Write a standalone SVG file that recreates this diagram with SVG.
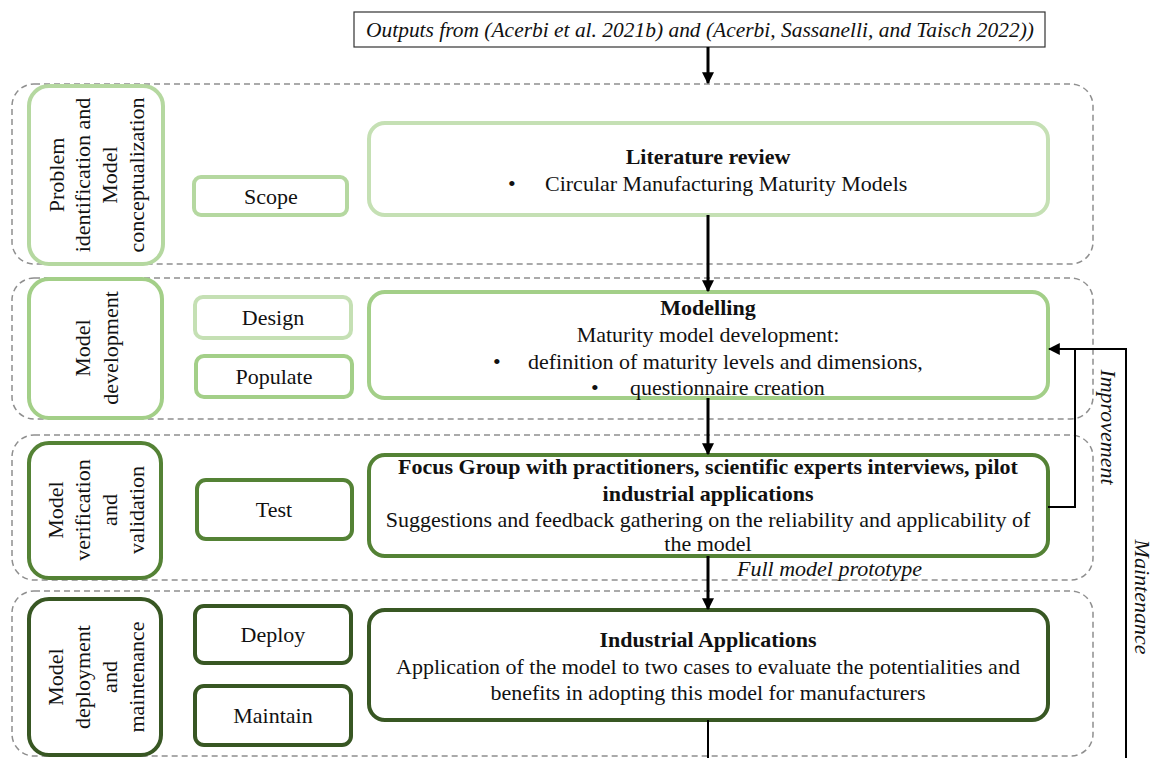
<svg xmlns="http://www.w3.org/2000/svg" width="1153" height="758" viewBox="0 0 1153 758">
<defs>
<style>
text{font-family:"Liberation Serif","Times New Roman",serif;font-size:22px;fill:#111}
.c{text-anchor:middle}
.b{font-weight:bold}
.i{font-style:italic}
.lane{fill:none;stroke:#8f8f8f;stroke-width:1.5;stroke-dasharray:6 4}
.g1{fill:#fff;stroke:#b5d8a0;stroke-width:4}
.g2{fill:#fff;stroke:#a3cf88;stroke-width:4}
.g3{fill:#fff;stroke:#548235;stroke-width:4}
.g4{fill:#fff;stroke:#385723;stroke-width:4}
.g0{fill:#fff;stroke:#c5e0b4;stroke-width:4}
.ar{fill:none;stroke:#000;stroke-width:3}
.ln{fill:none;stroke:#000;stroke-width:2}
</style>
<marker id="ah" viewBox="0 0 10 10" refX="9" refY="5" markerWidth="4" markerHeight="4" orient="auto" markerUnits="strokeWidth"><path d="M0,0 L10,5 L0,10 z" fill="#000"/></marker>
<marker id="ah2" viewBox="0 0 10 10" refX="9" refY="5" markerWidth="6" markerHeight="6" orient="auto" markerUnits="strokeWidth"><path d="M0,0 L10,5 L0,10 z" fill="#000"/></marker>
</defs>

<g id="lanes">
<rect class="lane" x="12" y="84" width="1081" height="180" rx="22"/>
<rect class="lane" x="12" y="278" width="1081" height="141" rx="22"/>
<rect class="lane" x="12" y="435" width="1081" height="145" rx="22"/>
<rect class="lane" x="12" y="591" width="1081" height="165" rx="22"/>
</g>

<g id="source">
<rect x="354" y="12" width="691" height="35" fill="#fff" stroke="#333" stroke-width="1.2"/>
<text class="c i" x="700" y="37" textLength="668" lengthAdjust="spacingAndGlyphs">Outputs from (Acerbi et al. 2021b) and (Acerbi, Sassanelli, and Taisch 2022))</text>
</g>

<g id="phase1">
<rect class="g1" x="29" y="86" width="134" height="178" rx="20"/>
<g transform="translate(97,175) rotate(-90)">
<text class="c" x="0" y="-33">Problem</text>
<text class="c" x="0" y="-7">identification and</text>
<text class="c" x="0" y="20">Model</text>
<text class="c" x="0" y="47">conceptualization</text>
</g>
</g>
<g id="phase2">
<rect class="g2" x="29" y="279" width="133" height="139" rx="20"/>
<g transform="translate(97,348) rotate(-90)">
<text class="c" x="0" y="-7">Model</text>
<text class="c" x="0" y="21">development</text>
</g>
</g>
<g id="phase3">
<rect class="g3" x="29" y="443" width="132" height="135" rx="20"/>
<g transform="translate(97,510) rotate(-90)">
<text class="c" x="0" y="-34">Model</text>
<text class="c" x="0" y="-7">verification</text>
<text class="c" x="0" y="20">and</text>
<text class="c" x="0" y="47">validation</text>
</g>
</g>
<g id="phase4">
<rect class="g4" x="29" y="599" width="132" height="156" rx="20"/>
<g transform="translate(97,677) rotate(-90)">
<text class="c" x="0" y="-34">Model</text>
<text class="c" x="0" y="-7">deployment</text>
<text class="c" x="0" y="20">and</text>
<text class="c" x="0" y="47">maintenance</text>
</g>
</g>

<g id="scope"><rect class="g1" x="194" y="177" width="153" height="38" rx="7"/><text class="c" x="271" y="204">Scope</text></g>
<g id="design"><rect class="g0" x="195" y="297" width="156" height="41" rx="8"/><text class="c" x="273" y="325">Design</text></g>
<g id="populate"><rect class="g2" x="196" y="356" width="156" height="41" rx="8"/><text class="c" x="274" y="384">Populate</text></g>
<g id="test"><rect class="g3" x="197" y="480" width="155" height="59" rx="9"/><text class="c" x="274" y="517">Test</text></g>
<g id="deploy"><rect class="g4" x="195" y="606" width="156" height="57" rx="9"/><text class="c" x="273" y="642">Deploy</text></g>
<g id="maintain"><rect class="g4" x="195" y="686" width="156" height="59" rx="9"/><text class="c" x="273" y="723">Maintain</text></g>

<g id="literature">
<rect class="g0" x="369" y="123" width="679" height="92" rx="16"/>
<text class="c b" x="708" y="164">Literature review</text>
<text x="508" y="191">•</text>
<text x="545" y="191">Circular Manufacturing Maturity Models</text>
</g>
<g id="modelling">
<rect class="g2" x="369" y="292" width="679" height="106" rx="16"/>
<text class="c b" x="708" y="315">Modelling</text>
<text class="c" x="708" y="342">Maturity model development:</text>
<text x="493" y="369">•</text>
<text x="528" y="369">definition of maturity levels and dimensions,</text>
<text x="591" y="395">•</text>
<text x="630" y="395">questionnaire creation</text>
</g>
<g id="focus">
<rect class="g3" x="369" y="455" width="679" height="101" rx="16"/>
<text class="c b" x="708" y="474">Focus Group with practitioners, scientific experts interviews, pilot</text>
<text class="c b" x="708" y="501">industrial applications</text>
<text class="c" x="708" y="527">Suggestions and feedback gathering on the reliability and applicability of</text>
<text class="c" x="708" y="551">the model</text>
</g>
<g id="industrial">
<rect class="g4" x="369" y="610" width="679" height="110" rx="16"/>
<text class="c b" x="708" y="647">Industrial Applications</text>
<text class="c" x="708" y="674">Application of the model to two cases to evaluate the potentialities and</text>
<text class="c" x="708" y="700">benefits in adopting this model for manufacturers</text>
</g>

<g id="connectors">
<line class="ar" x1="708" y1="47" x2="708" y2="83" marker-end="url(#ah)"/>
<line class="ar" x1="708" y1="215" x2="708" y2="291" marker-end="url(#ah)"/>
<line class="ar" x1="708" y1="398" x2="708" y2="454" marker-end="url(#ah)"/>
<line class="ar" x1="708" y1="556" x2="708" y2="609" marker-end="url(#ah)"/>
<line class="ln" x1="708" y1="720" x2="708" y2="758"/>
<polyline class="ln" points="1048,507 1075,507 1075,349"/>
<polyline class="ln" points="1126,758 1126,349 1049,349" marker-end="url(#ah2)"/>
<text class="i c" transform="translate(1101,427) rotate(90)">Improvement</text>
<text class="i c" transform="translate(1135,597) rotate(90)">Maintenance</text>
<text class="i" x="737" y="576">Full model prototype</text>
</g>
</svg>
